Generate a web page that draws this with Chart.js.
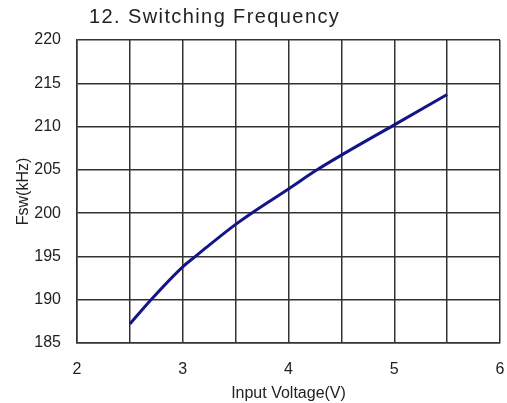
<!DOCTYPE html>
<html>
<head>
<meta charset="utf-8">
<script src="https://cdn.jsdelivr.net/npm/chart.js@4/dist/chart.umd.min.js"></script>
<style>
  html, body { margin: 0; padding: 0; background: #fff; }
  #wrap { width: 507px; height: 403px; }
</style>
</head>
<body>
<div id="wrap"><canvas id="fswChart" width="507" height="403"></canvas></div>
<script>
// Switching frequency vs input voltage
const inputVoltage = [2.5, 2.7, 3.0, 3.12, 3.25, 3.5, 3.65, 4.0, 4.27, 4.5, 5.0, 5.5];
const fswKHz = [187.2, 190.0, 193.8, 195.0, 196.3, 198.7, 200.0, 202.8, 205.0, 206.7, 210.2, 213.7];
const xTickLabels = ['2', '3', '4', '5', '6'];
const yTickValues = [185, 190, 195, 200, 205, 210, 215, 220];

const chartTitle = '12. Switching Frequency';
const textColor = '#222';
const gridColor = '#333';

// Title drawn at the top-left like the datasheet figure
const titlePlugin = {
    id: 'leftTitle',
    afterDraw(chart) {
        const ctx = chart.ctx;
        ctx.save();
        ctx.font = '20px "Liberation Sans", Arial, sans-serif';
        ctx.letterSpacing = '1.4px';
        ctx.fillStyle = textColor;
        ctx.textAlign = 'left';
        ctx.textBaseline = 'middle';
        ctx.fillText(chartTitle, 89, 17);
        ctx.restore();
    }
};

const ctx = document.getElementById('fswChart').getContext('2d');
new Chart(ctx, {
    type: 'scatter',
    data: {
        datasets: [{
            label: 'Fsw',
            data: inputVoltage.map((v, i) => ({ x: v, y: fswKHz[i] })),
            showLine: true,
            borderColor: '#14148a',
            borderWidth: 3,
            pointRadius: 0,
            tension: 0.4,
            cubicInterpolationMode: 'monotone',
            fill: false
        }]
    },
    options: {
        responsive: false,
        animation: false,
        layout: { padding: { left: 0, right: 7, top: 40, bottom: 0 } },
        plugins: {
            legend: { display: false },
            tooltip: { enabled: false }
        },
        scales: {
            x: {
                type: 'linear',
                min: 2,
                max: 6,
                afterFit: function(scale) {
                    scale.height = 60;
                    scale.paddingLeft = 0;
                    scale.paddingRight = 0;
                },
                afterBuildTicks: function(scale) {
                    const t = [];
                    for (let v = 2; v <= 6.001; v += 0.5) t.push({ value: Math.round(v * 10) / 10 });
                    scale.ticks = t;
                },
                grid: { color: gridColor, lineWidth: 1.5, drawTicks: false },
                border: { color: gridColor, width: 1.5 },
                ticks: {
                    padding: 17,
                    color: textColor,
                    font: { family: '"Liberation Sans", Arial, sans-serif', size: 16 },
                    maxRotation: 0,
                    autoSkip: false,
                    callback: function(value) {
                        const s = String(value);
                        return xTickLabels.includes(s) ? s : '';
                    }
                },
                title: {
                    display: true,
                    text: 'Input Voltage(V)',
                    color: textColor,
                    font: { family: '"Liberation Sans", Arial, sans-serif', size: 16 },
                    padding: { top: 0, bottom: 0 }
                }
            },
            y: {
                min: 185,
                max: 220,
                afterFit: function(scale) {
                    scale.width = 77;
                    scale.paddingTop = 0;
                    scale.paddingBottom = 0;
                },
                afterBuildTicks: function(scale) {
                    scale.ticks = yTickValues.map(v => ({ value: v }));
                },
                grid: { color: gridColor, lineWidth: 1.5, drawTicks: false },
                border: { color: gridColor, width: 1.5 },
                ticks: {
                    padding: 16,
                    color: textColor,
                    font: { family: '"Liberation Sans", Arial, sans-serif', size: 16 }
                },
                title: {
                    display: true,
                    text: 'Fsw(kHz)',
                    color: textColor,
                    font: { family: '"Liberation Sans", Arial, sans-serif', size: 16 },
                    padding: { top: 14, bottom: 0 }
                }
            }
        }
    },
    plugins: [titlePlugin]
});
</script>
</body>
</html>
